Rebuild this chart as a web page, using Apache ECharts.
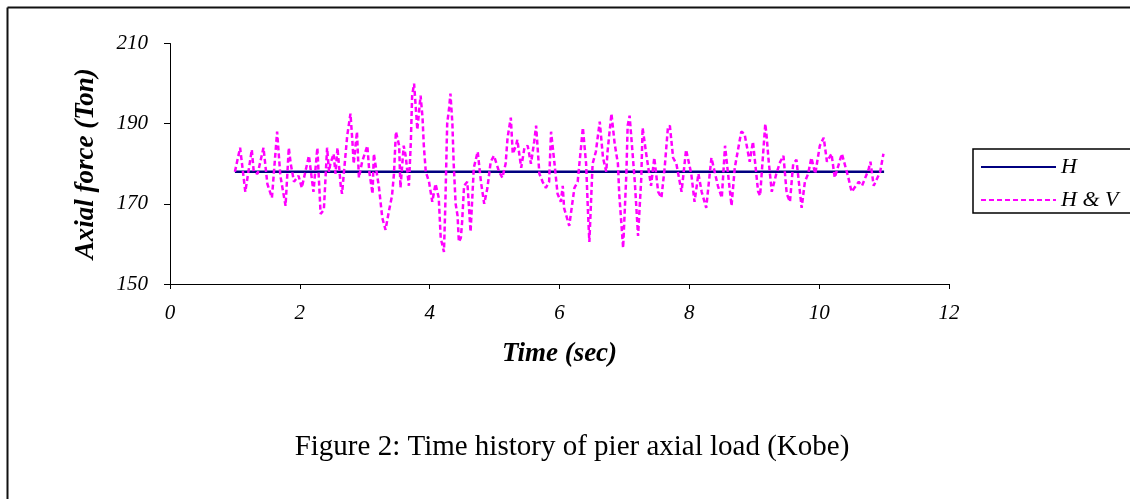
<!DOCTYPE html>
<html>
<head>
<meta charset="utf-8">
<script src="https://cdn.jsdelivr.net/npm/echarts@6/dist/echarts.min.js"></script>
<style>
html,body{margin:0;padding:0;background:#fff;}
#chart{width:1130px;height:499px;}
</style>
</head>
<body>
<div id="chart"></div>
<script>
// Horizontal-only response (H)
const hTime = [1, 11];
const hValue = [178, 178];

// Horizontal & vertical response (H & V)
const hvTime = [
1.00,1.08,1.16,1.26,1.29,1.35,1.44,1.50,1.57,1.65,1.70,1.78,1.83,1.86,1.91,1.98,2.03,2.14,2.21,2.27,
2.32,2.37,2.42,2.45,2.47,2.52,2.55,2.58,2.63,2.65,2.73,2.78,2.81,2.83,2.88,2.91,2.96,3.04,3.07,3.12,
3.14,3.17,3.22,3.27,3.32,3.37,3.42,3.45,3.48,3.53,3.55,3.60,3.63,3.68,3.71,3.73,3.76,3.81,3.86,3.89,
3.91,3.94,3.99,4.04,4.09,4.14,4.17,4.22,4.24,4.27,4.30,4.32,4.35,4.37,4.40,4.43,4.45,4.48,4.50,4.53,
4.58,4.63,4.68,4.74,4.79,4.84,4.89,4.94,4.99,5.07,5.12,5.17,5.20,5.25,5.28,5.33,5.35,5.41,5.46,5.51,
5.56,5.61,5.64,5.69,5.74,5.79,5.84,5.87,5.92,5.97,6.02,6.05,6.07,6.15,6.23,6.28,6.36,6.41,6.44,6.46,
6.51,6.56,6.62,6.67,6.72,6.74,6.80,6.85,6.90,6.92,6.98,7.03,7.05,7.08,7.16,7.21,7.26,7.28,7.34,7.41,
7.46,7.52,7.57,7.62,7.67,7.70,7.75,7.80,7.88,7.95,8.03,8.08,8.14,8.19,8.26,8.34,8.44,8.50,8.55,8.65,
8.70,8.80,8.85,8.93,8.98,9.06,9.09,9.17,9.19,9.22,9.27,9.34,9.40,9.45,9.50,9.55,9.60,9.65,9.73,9.78,
9.83,9.88,9.94,10.01,10.07,10.12,10.19,10.24,10.35,10.45,10.50,10.61,10.66,10.76,10.79,10.84,10.94,10.99
];
const hvValue = [
178,184,173,183.5,178,177.5,184,175,171.5,188,177,169.5,184,180,175.5,177,174,182,173,184,
167.5,168.5,184,178,180,182.5,177.5,184,174.5,172.5,187,192.5,185.5,180,188,176.5,180.5,184.5,178,172.5,
182.5,182.5,174,166.5,163.5,168,172,177.5,188,184.5,174,184.5,182,174.5,185.5,197,200,188.5,197,191.5,
184.5,178,175.5,170.5,175,171.5,161.5,158,169,190,194,197.5,190,180,170,167,160.5,161.5,165.5,174.5,
175.5,163,179,183,175.5,170,174,180.5,182,178,176.5,180,186.5,191.5,182.5,184.5,186,179,184,184.5,
180,185.5,189.5,177.5,175.5,174,175.5,188,180.5,172.5,170.5,174.5,169,164.5,174,175.5,189,180,167.5,160.5,
180,183,190.5,181.5,178,183,192.5,185,180,172.5,159,177.5,189.5,192,175.5,162,176.5,189,182,174.5,
181.5,173,171.5,179,189,189.5,181.5,180,173,183.5,177.5,170.5,177.5,173,169,181.5,174.5,171.5,184.5,169.5,
179,188,187.5,180.5,185.5,173,172,190,187,181,173,177.5,180.5,182,172.5,170.5,180,181,169,175.5,
177.5,181.5,177.5,184.5,186.5,180.5,182.5,176.5,182.5,176.5,173,175.5,174.5,178.5,180.5,174.5,178,182.5
];

// Axis ticks
const xTicks = [0, 2, 4, 6, 8, 10, 12];
const yTicks = [150, 170, 190, 210];

const serif = '"Liberation Serif", "Times New Roman", serif';

const hData = hTime.map((t, i) => [t, hValue[i]]);
const hvData = hvTime.map((t, i) => [t, hvValue[i]]);

const chart = echarts.init(document.getElementById('chart'), null, {renderer: 'canvas'});
chart.setOption({
  animation: false,
  backgroundColor: '#ffffff',
  grid: {left: 170, top: 43.5, width: 779, height: 240.5, containLabel: false},
  xAxis: {
    type: 'value',
    min: xTicks[0], max: xTicks[xTicks.length - 1], interval: 2,
    name: 'Time (sec)', nameLocation: 'middle', nameGap: 57,
    nameTextStyle: {fontFamily: serif, fontSize: 27, fontStyle: 'italic', fontWeight: 'bold', color: '#000'},
    axisLine: {show: true, onZero: false, lineStyle: {color: '#000', width: 1}},
    axisTick: {show: true, inside: false, length: 5, lineStyle: {color: '#000'}},
    axisLabel: {fontFamily: serif, fontSize: 21, fontStyle: 'italic', color: '#000', margin: 19},
    splitLine: {show: false}
  },
  yAxis: {
    type: 'value',
    min: yTicks[0], max: yTicks[yTicks.length - 1], interval: 20,
    name: 'Axial force (Ton)', nameLocation: 'middle', nameGap: 70,
    nameTextStyle: {fontFamily: serif, fontSize: 27, fontStyle: 'italic', fontWeight: 'bold', color: '#000'},
    axisLine: {show: true, onZero: false, lineStyle: {color: '#000', width: 1}},
    axisTick: {show: true, inside: false, length: 6, lineStyle: {color: '#000'}},
    axisLabel: {fontFamily: serif, fontSize: 21, fontStyle: 'italic', color: '#000', margin: 22},
    splitLine: {show: false}
  },
  legend: {
    orient: 'vertical',
    left: 973, top: 149,
    padding: [7, 30, 2, 7],
    itemWidth: 75, itemHeight: 14, itemGap: 11,
    borderColor: '#000', borderWidth: 1.5,
    itemStyle: {opacity: 0},
    textStyle: {fontFamily: serif, fontSize: 22, fontStyle: 'italic', color: '#000', lineHeight: 22},
    data: ['H', 'H & V']
  },
  series: [
    {
      name: 'H', type: 'line', data: hData, symbol: 'none',
      lineStyle: {color: '#000080', width: 2.5},
      itemStyle: {color: '#000080'}
    },
    {
      name: 'H & V', type: 'line', data: hvData, symbol: 'none',
      lineStyle: {color: '#ff00ff', width: 2.5, type: [5, 3]},
      itemStyle: {color: '#ff00ff'}
    }
  ],
  graphic: [
    {type: 'line', shape: {x1: 7.5, y1: 7.5, x2: 1130, y2: 7.5}, style: {stroke: '#111', lineWidth: 2}},
    {type: 'line', shape: {x1: 7.5, y1: 7.5, x2: 7.5, y2: 499}, style: {stroke: '#111', lineWidth: 2}},
    {type: 'text', x: 572, y: 447,
     style: {text: 'Figure 2: Time history of pier axial load (Kobe)', fontFamily: serif, fontSize: 29,
             fill: '#000', textAlign: 'center', textVerticalAlign: 'middle'}}
  ]
});
</script>
</body>
</html>
